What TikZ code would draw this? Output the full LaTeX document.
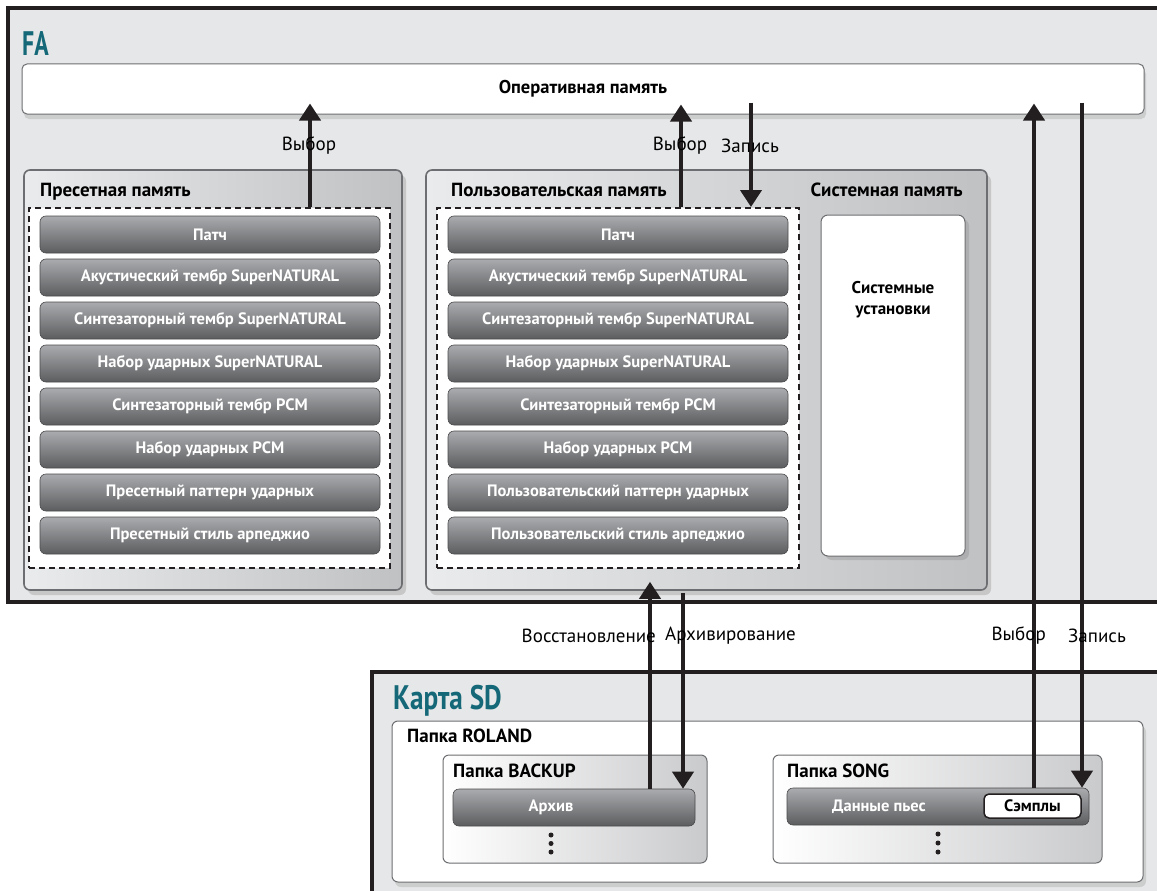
\documentclass[tikz,border=0pt]{standalone}
\usepackage{fontspec}
\setmainfont{PT Sans}
\usetikzlibrary{positioning,arrows.meta,shadows}

\definecolor{faTeal}{RGB}{20,104,120}
\definecolor{faBack}{RGB}{230,231,232}
\definecolor{boxEdge}{RGB}{109,110,113}
\definecolor{boxLight}{RGB}{234,235,236}
\definecolor{boxDark}{RGB}{192,193,195}
\definecolor{btnTop}{RGB}{170,171,174}
\definecolor{btnBot}{RGB}{92,93,95}
\definecolor{inkBlack}{RGB}{35,31,32}

\tikzset{
  zone/.style={draw=inkBlack, line width=4pt, fill=faBack},
  bigtitle/.style={text=faTeal, font=\fontsize{34}{36}\selectfont\bfseries, inner sep=0pt},
  rambar/.style={draw=boxEdge, line width=1pt, fill=white, rounded corners=5pt,
    font=\fontsize{18.5}{20}\selectfont\bfseries,
    drop shadow={shadow xshift=2pt, shadow yshift=-5pt, opacity=0.25}},
  membox/.style={draw=boxEdge, line width=1.6pt, left color=boxLight, right color=boxDark,
    rounded corners=6pt, drop shadow={shadow xshift=4pt, shadow yshift=-5pt, opacity=0.3}},
  foldbox/.style={draw=boxEdge, line width=1pt, left color=white, right color=boxDark!85,
    rounded corners=6pt},
  whitebox/.style={draw=boxEdge, line width=1pt, fill=white, rounded corners=7pt},
  dashbox/.style={draw=inkBlack, line width=2pt, dash pattern=on 6pt off 4pt, fill=white},
  patchbtn/.style={draw=btnBot!80!black, line width=0.6pt, top color=btnTop, bottom color=btnBot,
    rounded corners=6pt, minimum height=37pt, text=white,
    font=\fontsize{16.5}{18}\selectfont\bfseries},
  sampbox/.style={draw=inkBlack, line width=1.5pt, fill=white, rounded corners=5pt,
    minimum width=97pt, minimum height=24pt, font=\fontsize{16.5}{18}\selectfont\bfseries},
  boxtitle/.style={font=\fontsize{19}{21}\selectfont\bfseries, inner sep=0pt},
  flowlabel/.style={font=\fontsize{19}{21}\selectfont, inner sep=0pt},
  flowarrow/.style={draw=inkBlack, line width=4pt, -{Triangle[length=17pt,width=21pt]}},
  dotmark/.style={circle, fill=inkBlack, inner sep=0pt, minimum size=5pt}
}

\begin{document}
\begin{tikzpicture}[x=1pt,y=-1pt]
    \useasboundingbox (0,0) rectangle (1157,891);
    \clip (0,0) rectangle (1157,891);
    \fill[white] (0,0) rectangle (1157,891);

    %FA block
    \node[zone, minimum width=1167pt, minimum height=594pt] (fa) at (591.5,305) {};
    \node[bigtitle, anchor=base west] (fatitle) at (22,56) {\scalebox{0.7}[1]{FA}};

    %ram
    \node[rambar, minimum width=1122pt, minimum height=50pt] (ram) at (583,89) {Оперативная память};

    %preset memory
    \node[membox, minimum width=378pt, minimum height=420pt] (preset) at (213,380) {};
    \node[boxtitle, anchor=base west] (presettitle) at (40,196) {Пресетная память};
    \node[dashbox, minimum width=361pt, minimum height=360pt] (presetdash) at (209.5,388) {};
    \foreach \lbl [count=\i from 0] in {Патч, Акустический тембр SuperNATURAL,
        Синтезаторный тембр SuperNATURAL, Набор ударных SuperNATURAL,
        Синтезаторный тембр PCM, Набор ударных PCM,
        Пресетный паттерн ударных, Пресетный стиль арпеджио}
      \node[patchbtn, minimum width=340pt] (pbtn\i) at (210,{234.5+43*\i}) {\lbl};

    %user memory
    \node[membox, minimum width=561pt, minimum height=420pt] (user) at (706.5,380) {};
    \node[boxtitle, anchor=base west] (usertitle) at (451,196) {Пользовательская память};
    \node[boxtitle, anchor=base east] (systitle) at (963,196) {Системная память};
    \node[dashbox, minimum width=362pt, minimum height=360pt] (userdash) at (618,388) {};
    \foreach \lbl [count=\i from 0] in {Патч, Акустический тембр SuperNATURAL,
        Синтезаторный тембр SuperNATURAL, Набор ударных SuperNATURAL,
        Синтезаторный тембр PCM, Набор ударных PCM,
        Пользовательский паттерн ударных, Пользовательский стиль арпеджио}
      \node[patchbtn, minimum width=340pt] (ubtn\i) at (618,{234.5+43*\i}) {\lbl};

    %system settings
    \node[whitebox, minimum width=144pt, minimum height=341pt,
      drop shadow={shadow xshift=4pt, shadow yshift=-4pt, opacity=0.3}] (sysset) at (893,385.5) {};
    \node[font=\fontsize{17}{21}\selectfont\bfseries, align=center] (syslabel) at (893,300)
      {Системные\\установки};

    %SD card block
    \node[zone, minimum width=803pt, minimum height=228pt] (sd) at (773.5,786) {};
    \node[bigtitle, anchor=base west] (sdtitle) at (393,709) {\scalebox{0.8}[1]{Карта SD}};
    \node[whitebox, rounded corners=6pt, minimum width=751pt, minimum height=161pt,
      drop shadow={shadow xshift=3pt, shadow yshift=-5pt, opacity=0.25}] (roland) at (767.5,801.5) {};
    \node[boxtitle, anchor=base west] (rolandtitle) at (407,742) {Папка ROLAND};

    %backup folder
    \node[foldbox, minimum width=264pt, minimum height=108pt] (backup) at (575,809) {};
    \node[boxtitle, anchor=base west] (backuptitle) at (453,777) {Папка BACKUP};
    \node[patchbtn, minimum width=242pt] (archive) at (574,807.5) {};
    \node[text=white, font=\fontsize{16.5}{18}\selectfont\bfseries] (archivelabel) at (551,807.5) {Архив};
    \node[dotmark] (bdot1) at (551,835) {};
    \node[dotmark] (bdot2) at (551,843.5) {};
    \node[dotmark] (bdot3) at (551,852) {};

    %song folder
    \node[foldbox, minimum width=329pt, minimum height=108pt] (song) at (937.5,809) {};
    \node[boxtitle, anchor=base west] (songtitle) at (787,777) {Папка SONG};
    \node[patchbtn, minimum width=302pt] (songdata) at (938,806.5) {};
    \node[text=white, font=\fontsize{16.5}{18}\selectfont\bfseries] (songlabel) at (879,806.5) {Данные пьес};
    \node[sampbox] (samples) at (1032.5,806) {Сэмплы};
    \node[dotmark] (sdot1) at (938,834) {};
    \node[dotmark] (sdot2) at (938,843) {};
    \node[dotmark] (sdot3) at (938,852) {};

    %arrow columns
    \coordinate (colA) at (310,0);
    \coordinate (colB) at (681,0);
    \coordinate (colC) at (751,0);
    \coordinate (colD) at (1034,0);
    \coordinate (colE) at (1082,0);
    \coordinate (colF) at (650,0);
    \coordinate (colG) at (683,0);

    %arrows
    \draw[flowarrow] (presetdash.north -| colA) -- ([yshift=11pt]ram.south -| colA);
    \draw[flowarrow] (userdash.north -| colB) -- ([yshift=10pt]ram.south -| colB);
    \draw[flowarrow] ([yshift=12pt]ram.south -| colC) -- (userdash.north -| colC);
    \draw[flowarrow] (songdata.north -| colD) -- ([yshift=11pt]ram.south -| colD);
    \draw[flowarrow] ([yshift=12pt]ram.south -| colE) -- (songdata.north -| colE);
    \draw[flowarrow] (archive.north -| colF) -- ([yshift=9pt]user.south -| colF);
    \draw[flowarrow] ([yshift=-2pt]user.south -| colG) -- (archive.north -| colG);

    %labels
    \node[flowlabel] (selA) at (309,146) {Выбор};
    \node[flowlabel] (selB) at (680,146) {Выбор};
    \node[flowlabel] (wrC) at (750,146) {Запись};
    \node[flowlabel, anchor=east] (selD) at (1046,636) {Выбор};
    \node[flowlabel, anchor=west] (wrE) at (1068,636) {Запись};
    \node[flowlabel, anchor=east] (restF) at (656,636) {Восстановление};
    \node[flowlabel, anchor=west] (backG) at (665,636) {Архивирование};
\end{tikzpicture}
\end{document}
